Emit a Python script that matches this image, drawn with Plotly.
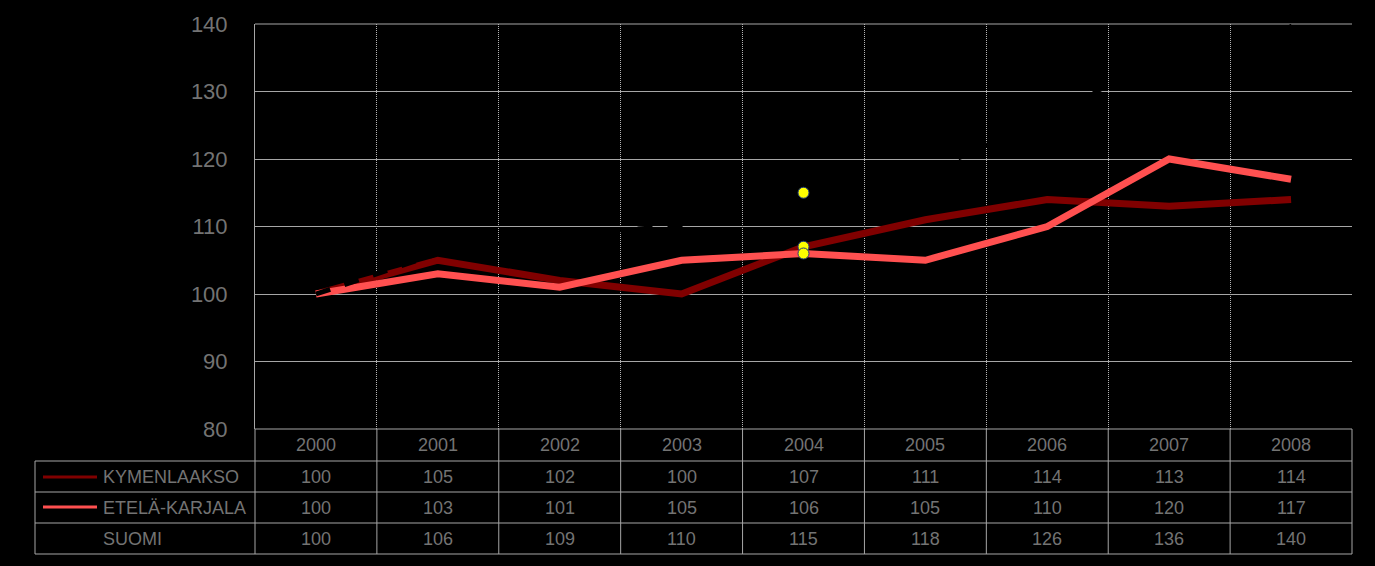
import plotly.graph_objects as go

# ---- data ----
years = ["2000", "2001", "2002", "2003", "2004", "2005", "2006", "2007", "2008"]
kymenlaakso = [100, 105, 102, 100, 107, 111, 114, 113, 114]
etela_karjala = [100, 103, 101, 105, 106, 105, 110, 120, 117]
suomi = [100, 106, 109, 110, 115, 118, 126, 136, 140]
series_names = ["KYMENLAAKSO", "ETELÄ-KARJALA", "SUOMI"]
series_colors = ["#800000", "#ff5050", "#000000"]
highlight_year = "2004"
y_min, y_max, y_step = 80, 140, 10

# ---- layout constants ----
W, H = 1375, 566
ML, MR, MT, MB = 255, 23, 24, 137
PW, PH = W - ML - MR, H - MT - MB
FONT = "Liberation Sans, Arial, sans-serif"
TXT = "#737373"
GRID = "#a6a6a6"

def py(p):  # pixel y -> paper y
    return (H - MB - p) / PH

def px(p):  # pixel x -> paper x
    return (p - ML) / PW

xs = list(range(len(years)))
series_values = [kymenlaakso, etela_karjala, suomi]

fig = go.Figure()
fig.add_trace(go.Scatter(x=xs, y=kymenlaakso, mode="lines", name=series_names[0],
                         line=dict(color=series_colors[0], width=7)))
fig.add_trace(go.Scatter(x=xs, y=etela_karjala, mode="lines", name=series_names[1],
                         line=dict(color=series_colors[1], width=7)))
fig.add_trace(go.Scatter(x=xs, y=suomi, mode="lines", name=series_names[2],
                         line=dict(color=series_colors[2], width=5, dash="dash")))

hi = years.index(highlight_year)
for vals in [suomi, kymenlaakso, etela_karjala]:
    fig.add_trace(go.Scatter(x=[hi], y=[vals[hi]], mode="markers", showlegend=False,
                             marker=dict(color="#ffff00", size=11,
                                         line=dict(color="#1f3a7a", width=1))))

shapes = []
line_style = dict(color=GRID, width=1)
# top and bottom grid lines of plot area (plotly skips grid at range edges)
for yp in [0, 1]:
    shapes.append(dict(type="line", xref="paper", yref="paper", layer="below",
                       x0=0, x1=1, y0=yp, y1=yp, line=line_style))
# table horizontal lines
for p in [461, 492, 523, 554]:
    shapes.append(dict(type="line", xref="paper", yref="paper",
                       x0=px(35), x1=1, y0=py(p), y1=py(p), line=line_style))
# table left border
shapes.append(dict(type="line", xref="paper", yref="paper",
                   x0=px(35), x1=px(35), y0=py(461), y1=py(554), line=line_style))
# column boundaries in table
n = len(years)
for i in range(n + 1):
    xp = i / n
    shapes.append(dict(type="line", xref="paper", yref="paper",
                       x0=xp, x1=xp, y0=0, y1=py(554), line=line_style))
# legend swatches
for color, p in [(series_colors[0], 477), (series_colors[1], 507)]:
    shapes.append(dict(type="line", xref="paper", yref="paper",
                       x0=px(43), x1=px(97), y0=py(p), y1=py(p),
                       line=dict(color=color, width=3)))

annotations = []
row_centers = [477, 508, 539]
for name, vals, yc in zip(series_names, series_values, row_centers):
    annotations.append(dict(text=name, xref="paper", yref="paper", x=px(101), y=py(yc),
                            xanchor="left", yanchor="middle", showarrow=False,
                            font=dict(family=FONT, size=18, color=TXT)))
    for i, v in enumerate(vals):
        annotations.append(dict(text=str(v), xref="x", yref="paper", x=i, y=py(yc),
                                xanchor="center", yanchor="middle", showarrow=False,
                                font=dict(family=FONT, size=18, color=TXT)))
for i, yr in enumerate(years):
    annotations.append(dict(text=yr, xref="x", yref="paper", x=i, y=py(445),
                            xanchor="center", yanchor="middle", showarrow=False,
                            font=dict(family=FONT, size=18, color=TXT)))

fig.update_layout(
    width=W, height=H,
    margin=dict(l=ML, r=MR, t=MT, b=MB, pad=0),
    paper_bgcolor="#000000", plot_bgcolor="#000000",
    showlegend=False,
    shapes=shapes, annotations=annotations,
    xaxis=dict(range=[-0.5, n - 0.5], tickvals=xs, showticklabels=False,
               showgrid=False, zeroline=False, showline=False, ticks="",
               minor=dict(tickvals=[i + 0.5 for i in range(n)], showgrid=True,
                          griddash="1px,1px", gridcolor="#b4b4b4", gridwidth=1, ticks="")),
    yaxis=dict(range=[y_min, y_max], dtick=y_step, tick0=y_min,
               showgrid=True, gridcolor=GRID, gridwidth=1, zeroline=False,
               showline=True, linecolor=GRID, linewidth=1,
               ticks="outside", ticklen=0, ticklabelstandoff=22,
               tickfont=dict(family=FONT, size=22, color=TXT)),
)

fig.write_html("out.html")
